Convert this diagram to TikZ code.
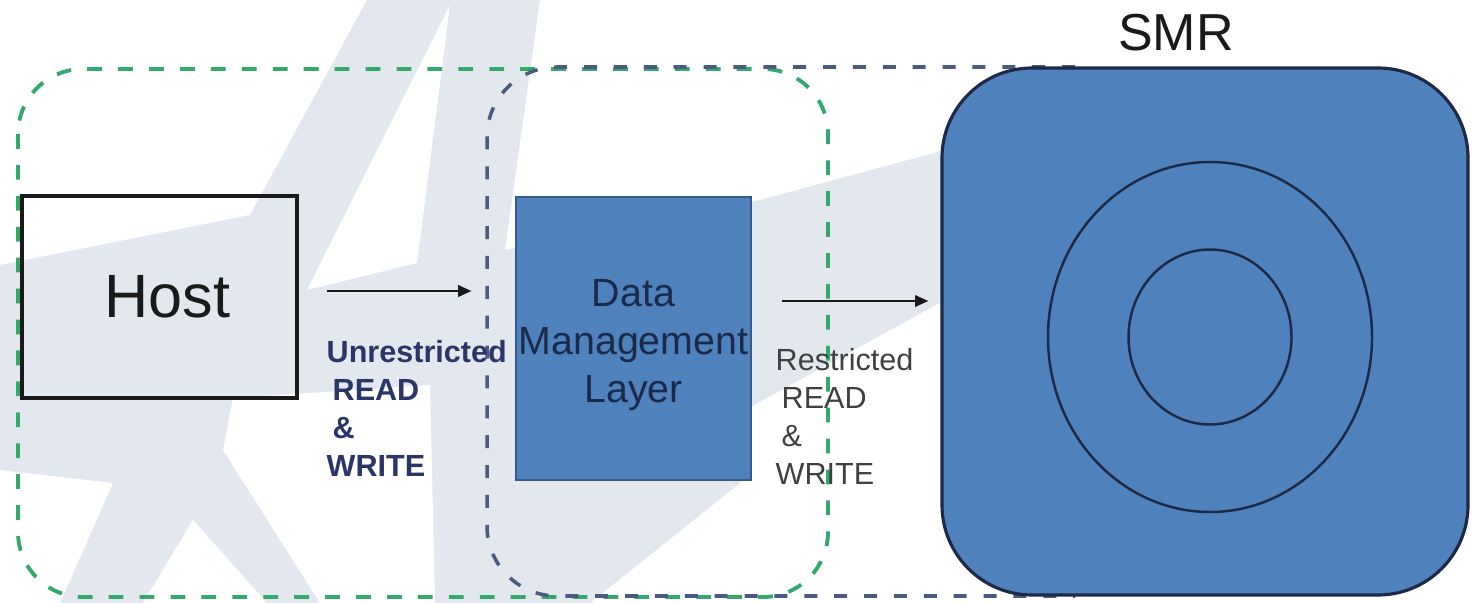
\documentclass[tikz,border=0pt]{standalone}
\usepackage{fontspec}
\setmainfont{Liberation Sans}
\usetikzlibrary{arrows.meta,shapes.geometric}
\definecolor{Mark}{HTML}{E3E8EF}
\definecolor{ZoneGreen}{HTML}{34A96C}
\definecolor{ZoneSlate}{HTML}{4A5A80}
\definecolor{DiskBlue}{HTML}{4F81BD}
\definecolor{DiskEdge}{HTML}{1C2A48}
\definecolor{LayerEdge}{HTML}{39598A}
\definecolor{InkDark}{HTML}{1A1A1A}
\definecolor{InkNavy}{HTML}{2B3668}
\definecolor{InkDeep}{HTML}{1B2A4A}
\definecolor{InkGrey}{HTML}{404040}

\begin{document}
\begin{tikzpicture}[x=0.1mm,y=-0.1mm,every node/.style={text=InkDark},box/.style={draw=InkDark,line width=1pt,minimum width=27.5mm,minimum height=20.2mm,font=\fontsize{17.4}{20}\selectfont},layer/.style={draw=LayerEdge,line width=0.8pt,fill=DiskBlue,inner sep=0pt,minimum width=23.5mm,minimum height=28.3mm,align=center,text=InkDeep,font=\fontsize{11.2}{13.7}\selectfont},disk/.style={draw=DiskEdge,line width=0.9pt,fill=DiskBlue,rounded corners=9mm,minimum width=52.6mm,minimum height=52.7mm},ring/.style={ellipse,draw=DiskEdge,line width=0.7pt,inner sep=0pt},flow/.style={draw=InkDark,line width=0.75pt,-{Triangle[length=3.8pt,width=3.2pt]}},access/.style={anchor=north west,align=left,inner sep=0pt,font=\fontsize{8.7}{10.8}\selectfont},greenzone/.style={draw=ZoneGreen,line width=1.1pt,dash pattern=on 4.2pt off 4.6pt,rounded corners=6.5mm},slatezone/.style={draw=ZoneSlate,line width=1pt,dash pattern=on 3.7pt off 4.8pt,rounded corners=7mm}]
\useasboundingbox[fill=white] (0,0) rectangle (1474,603);
\fill[Mark] (367,0)--(540,0)--(505,250)--(760,200)--(945,150)--(945,300)--(745,410)--(740,483)--(590,603)--(0,603)--(0,265)--(250,215)--cycle;
\fill[white] (450,5)--(307,290)--(417,263)--cycle; \fill[white] (0,470)--(113,483)--(60,603)--(0,603)--cycle; \fill[white] (193,520)--(143,603)--(267,603)--cycle; \fill[white] (233,398)--(430,385)--(435,603)--(320,603)--(223,450)--cycle;
\draw[greenzone] (18,69) rectangle (828,597);
\draw[slatezone] (1075,67)--(487,67)--(487,596)--(1075,596);
\node[box] (host) at (159.5,297) {\hspace*{1.6mm}Host};
\node[layer] (dml) at (633.5,338.5) {\rule{0pt}{11.4pt}Data\\Management\\Layer};
\node[disk] (smr) at (1205,331.5) {};
\node[ring,minimum width=32.4mm,minimum height=35mm] (outer) at (1210,337) {};\node[ring,minimum width=16.3mm,minimum height=17.5mm] (inner) at (1210,337) {};
\node[font=\fontsize{14.8}{17}\selectfont] (smrlabel) at (1176,33) {SMR};
\draw[flow] ([xshift=2.8mm,yshift=0.6mm]host.east) -- ([xshift=-4.3mm,yshift=0.6mm]host.east -| dml.west);
\draw[flow] ([xshift=3mm,yshift=3.75mm]dml.east) -- ([xshift=-1.2mm,yshift=3.75mm]dml.east -| smr.west);
\node[access,text=InkNavy,font=\bfseries\fontsize{8.7}{10.8}\selectfont] (unres) at (326,340) {Unrestricted\\\hspace*{1.7pt}READ\\\hspace*{1.7pt}\&\\WRITE};
\node[access,text=InkGrey] (res) at (775,348) {Restricted\\\hspace*{1.7pt}READ\\\hspace*{1.7pt}\&\\WRITE};
\end{tikzpicture}
\end{document}
